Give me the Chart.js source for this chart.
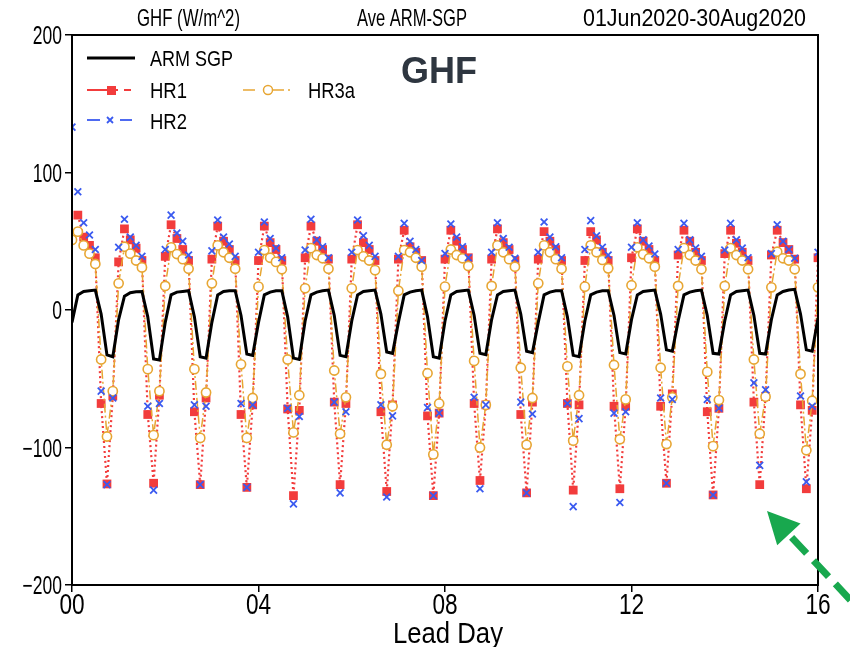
<!DOCTYPE html>
<html>
<head>
<meta charset="utf-8">
<title>GHF Ave ARM-SGP</title>
<script src="https://cdn.jsdelivr.net/npm/chart.js@4.4.1/dist/chart.umd.min.js"></script>
<style>
  html, body { margin: 0; padding: 0; background: #fff; }
  #wrap { position: relative; width: 850px; height: 647px; }
</style>
</head>
<body>
<div id="wrap"><canvas id="chartGhf"></canvas></div>
<script>
// 3-hourly values, 8 per lead day (00,03,...,21 UTC), plus day 16 00
var stepHours = 3;
var dayTicks = [0, 4, 8, 12, 16];
var ghfTicks = [-200, -100, 0, 100, 200];

var armSgp = [
  -9, 11, 13.5, 14, 14.5, -3, -32.7, -34,
  -7, 10, 12.6, 13.3, 13.5, -5, -35.6, -36.4,
  -9, 11, 13, 13.5, 14, -5, -34, -35,
  -9, 11, 13.5, 14, 14, -4, -32, -33,
  -9, 11, 13, 14, 14, -5, -35, -36,
  -8, 11, 13, 14, 14.5, -4, -33, -34,
  -8, 11, 13.5, 14, 14.5, -3, -30.5, -31.5,
  -9, 11, 13, 14, 14.5, -5, -34, -35,
  -8, 11, 13.5, 14, 14.5, -4, -31.5, -32.5,
  -7, 11, 13.5, 14, 14.5, -3, -30, -31,
  -9, 11, 13, 14, 14, -5, -33, -34,
  -8, 11, 13, 14, 14, -4, -31, -32,
  -7, 11, 13.5, 14, 14.5, -3, -29, -30,
  -8, 11, 13, 14, 14.5, -4, -31.5, -32,
  -8, 11, 13.5, 14, 14.5, -4, -31.5, -32,
  -7, 11, 13.5, 14.5, 15, -3, -29, -30,
  -6
];

var hr1 = [
  null, 69, 53, 47, 38, -68, -126.5, -62.5,
  35, 59, 51, 45, 36, -76, -126, -62,
  39, 62, 52, 44, 36, -74, -127, -64,
  37, 61, 50, 44, 36, -76, -129, -69,
  36, 61, 49, 44, 36, -72, -135, -73,
  38, 61, 50, 44, 37, -67, -127, -68,
  37, 62, 49, 44, 36, -74, -132, -69,
  37, 58, 46, 42, 36, -77, -135, -75,
  37, 58, 50, 44, 38, -68, -124, -69,
  37, 59, 49, 44, 36, -76, -133, -67,
  37, 57, 50, 44, 36, -68, -131, -69,
  36, 57, 51, 42, 36, -70, -130, -70,
  38, 59, 50, 44, 36, -70, -126, -61,
  40, 58, 50, 42, 36, -74, -134.5, -71.5,
  41, 58, 48.5, 42, 36, -67, -127, -63,
  40, 58, 49, 44, 37, -69, -130, -73,
  38
];

var hr2 = [
  133, 86, 63.5, 54.5, 44, -59, -127, -64,
  45.6, 66, 53, 47, 39, -70, -131, -68,
  44, 69, 56, 50, 40, -69, -127, -70,
  43, 65.5, 53, 48, 39, -68, -129, -69,
  42, 64, 52, 45, 38, -71.5, -141, -77.5,
  43.6, 66, 51, 46, 38, -67, -133, -74,
  42, 65.5, 54, 47, 39, -69, -136, -77,
  39, 63, 50, 44, 36, -71, -135, -75,
  41, 62.5, 53, 46, 38, -63.5, -130, -69,
  42, 63.5, 52, 45.6, 37.6, -67, -133, -75.6,
  42, 64, 53, 46, 38, -68, -143, -79,
  44, 65, 54, 45.6, 40, -75, -140, -74,
  45.6, 63.5, 51, 46.5, 40.7, -64, -126, -65,
  44, 63, 51, 45, 39, -65, -134.5, -71.5,
  43.6, 63, 51, 45, 38, -53, -113, -58,
  41, 62, 50, 44, 37.6, -62.5, -125, -70,
  42
];

var hr3a = [
  51, 57, 47, 41, 33.5, -36, -92, -59,
  19.4, 46, 41, 36, 31, -43, -91, -59,
  17.5, 45.6, 40.7, 37, 30, -43, -93, -60,
  19.4, 47, 42, 38, 30, -39.5, -93, -64,
  17, 43.6, 38, 35, 29.6, -36, -89, -62,
  15.8, 45, 40, 37.6, 30, -44, -90, -63.5,
  15.8, 43.6, 39, 36, 29, -46.5, -98, -70,
  14, 43.6, 42, 38, 31.5, -46, -105, -68,
  17, 44, 40, 37.6, 32, -37, -100, -69,
  17.5, 47, 42, 37, 31.5, -42, -98, -64,
  19.4, 47, 42, 37, 30, -41, -95, -62,
  17, 47, 42, 36.4, 30.3, -40, -94, -65,
  18, 45.6, 40.5, 37.6, 31.5, -42, -97.5, -63.5,
  17.5, 45, 40, 36, 29.6, -45, -99, -65.5,
  17.5, 45, 40, 36, 29.6, -36, -90, -63,
  16.5, 42.4, 37.6, 36, 29.6, -46.5, -102, -66,
  16.5
];

var FONT = "'Liberation Sans', Arial, sans-serif";
var RED = '#f23c3c', BLUE = '#3a5af0', ORANGE = '#e7a633', GREEN = '#18a84e';

function pts(values) {
  return values.map(function (v, i) {
    return { x: i * stepHours / 24, y: v };
  });
}

function minusLabel(v) {
  return v < 0 ? '\u2212' + Math.abs(v) : String(v);
}

// draw text squeezed horizontally (narrow plotting font look)
function narrowText(ctx, str, x, y, align, size, sx) {
  ctx.save();
  ctx.font = size + 'px ' + FONT;
  ctx.translate(x, y);
  ctx.scale(sx, 1);
  ctx.textAlign = align;
  ctx.textBaseline = 'alphabetic';
  ctx.fillText(str, 0, 0);
  ctx.restore();
}

// same, but squeezed to a given width
function fitText(ctx, str, x, y, align, size, width) {
  ctx.font = size + 'px ' + FONT;
  var w = ctx.measureText(str).width;
  narrowText(ctx, str, x, y, align, size, width / w);
}

var decorPlugin = {
  id: 'decor',
  afterDraw: function (chart) {
    var ctx = chart.ctx, a = chart.chartArea;
    var xs = chart.scales.x, ys = chart.scales.y;
    ctx.save();

    // frame
    ctx.strokeStyle = '#000';
    ctx.lineWidth = 2;
    ctx.strokeRect(a.left, a.top, a.right - a.left, a.bottom - a.top);

    ctx.fillStyle = '#000';
    // tick labels
    ghfTicks.forEach(function (v) {
      narrowText(ctx, minusLabel(v), 62, ys.getPixelForValue(v) + 9, 'right', 25, 0.7);
    });
    dayTicks.forEach(function (v) {
      narrowText(ctx, (v < 10 ? '0' : '') + v, xs.getPixelForValue(v), 614, 'center', 29, 0.78);
    });
    fitText(ctx, 'Lead Day', 393, 643, 'left', 30, 110);

    // header line
    fitText(ctx, 'GHF (W/m^2)', 137, 26, 'left', 24, 103);
    fitText(ctx, 'Ave ARM-SGP', 357, 26, 'left', 24, 110);
    fitText(ctx, '01Jun2020-30Aug2020', 806, 26, 'right', 24, 223);

    // big label
    ctx.fillStyle = '#2e3640';
    ctx.font = 'bold 36px ' + FONT;
    ctx.textAlign = 'center';
    ctx.textBaseline = 'alphabetic';
    ctx.fillText('GHF', 439, 83);

    // legend
    ctx.fillStyle = '#000';
    ctx.strokeStyle = '#000';
    ctx.lineWidth = 3;
    ctx.beginPath(); ctx.moveTo(87, 58); ctx.lineTo(135, 58); ctx.stroke();
    fitText(ctx, 'ARM SGP', 150, 66, 'left', 22, 83);

    ctx.strokeStyle = RED;
    ctx.lineWidth = 2;
    ctx.beginPath(); ctx.moveTo(87, 90); ctx.lineTo(118, 90); ctx.stroke();
    ctx.beginPath(); ctx.moveTo(124, 90); ctx.lineTo(131, 90); ctx.stroke();
    ctx.fillStyle = RED;
    ctx.fillRect(107, 86, 9, 9);
    ctx.fillStyle = '#000';
    fitText(ctx, 'HR1', 150, 98, 'left', 22, 37);

    ctx.strokeStyle = ORANGE;
    ctx.lineWidth = 1.5;
    ctx.beginPath(); ctx.moveTo(243, 90); ctx.lineTo(255, 90); ctx.stroke();
    ctx.beginPath(); ctx.moveTo(272, 90); ctx.lineTo(284, 90); ctx.stroke();
    ctx.beginPath(); ctx.moveTo(288, 90); ctx.lineTo(290, 90); ctx.stroke();
    ctx.fillStyle = '#fff';
    ctx.beginPath(); ctx.arc(268, 90, 4.5, 0, Math.PI * 2); ctx.fill(); ctx.stroke();
    ctx.fillStyle = '#000';
    fitText(ctx, 'HR3a', 308, 98, 'left', 22, 47);

    ctx.strokeStyle = BLUE;
    ctx.lineWidth = 1.8;
    ctx.beginPath(); ctx.moveTo(87, 120); ctx.lineTo(100, 120); ctx.stroke();
    ctx.beginPath(); ctx.moveTo(120, 120); ctx.lineTo(132, 120); ctx.stroke();
    ctx.beginPath();
    ctx.moveTo(107, 117); ctx.lineTo(113, 123);
    ctx.moveTo(113, 117); ctx.lineTo(107, 123);
    ctx.stroke();
    ctx.fillStyle = '#000';
    fitText(ctx, 'HR2', 150, 129, 'left', 22, 37);

    // green dashed arrow (annotation)
    var tipX = 767, tipY = 511, tailX = 856, tailY = 606;
    var dx = tailX - tipX, dy = tailY - tipY;
    var len = Math.sqrt(dx * dx + dy * dy);
    var ux = dx / len, uy = dy / len;
    var headLen = 32, headHalf = 16;
    var bx = tipX + ux * headLen, by = tipY + uy * headLen;
    ctx.strokeStyle = GREEN;
    ctx.lineWidth = 7;
    ctx.setLineDash([22, 10]);
    ctx.beginPath(); ctx.moveTo(bx + ux * 4, by + uy * 4); ctx.lineTo(tailX, tailY); ctx.stroke();
    ctx.setLineDash([]);
    ctx.fillStyle = GREEN;
    ctx.beginPath();
    ctx.moveTo(tipX, tipY);
    ctx.lineTo(bx - uy * headHalf, by + ux * headHalf);
    ctx.lineTo(bx + uy * headHalf, by - ux * headHalf);
    ctx.closePath();
    ctx.fill();

    ctx.restore();
  }
};

var ctxEl = document.getElementById('chartGhf');
new Chart(ctxEl, {
  type: 'line',
  data: {
    datasets: [
      {
        label: 'ARM SGP',
        data: pts(armSgp),
        borderColor: '#000',
        borderWidth: 3,
        pointRadius: 0,
        tension: 0,
        order: 0
      },
      {
        label: 'HR2',
        data: pts(hr2),
        showLine: false,
        borderColor: BLUE,
        pointStyle: 'crossRot',
        pointRadius: 4.8,
        pointBorderWidth: 1.8,
        pointBorderColor: BLUE,
        order: 1
      },
      {
        label: 'HR3a',
        data: pts(hr3a),
        borderColor: ORANGE,
        borderWidth: 1.5,
        borderDash: [9, 3, 2, 3],
        pointStyle: 'circle',
        pointRadius: 4.6,
        pointBorderWidth: 1.6,
        pointBorderColor: ORANGE,
        pointBackgroundColor: '#fff',
        tension: 0,
        order: 2
      },
      {
        label: 'HR1',
        data: pts(hr1),
        borderColor: RED,
        borderWidth: 2.2,
        borderDash: [2, 3],
        pointStyle: 'rect',
        pointRadius: 6.2,
        pointBorderWidth: 0,
        pointBackgroundColor: RED,
        tension: 0,
        order: 3
      }
    ]
  },
  options: {
    responsive: true,
    maintainAspectRatio: false,
    animation: false,
    layout: { padding: { top: 35, right: 32, left: 0, bottom: 0 } },
    plugins: {
      legend: { display: false },
      title: { display: false },
      tooltip: { enabled: false }
    },
    scales: {
      x: {
        type: 'linear',
        min: 0,
        max: 16,
        afterBuildTicks: function (scale) {
          scale.ticks = dayTicks.map(function (v) { return { value: v }; });
        },
        afterFit: function (scale) { scale.height = 62; },
        ticks: { display: false },
        grid: { drawOnChartArea: false, drawTicks: true, tickLength: 7, color: '#000', lineWidth: 1.5 },
        border: { display: true, color: '#000', width: 2 }
      },
      y: {
        min: -200,
        max: 200,
        afterBuildTicks: function (scale) {
          scale.ticks = ghfTicks.map(function (v) { return { value: v }; });
        },
        afterFit: function (scale) { scale.width = 72; },
        ticks: { display: false },
        grid: { drawOnChartArea: false, drawTicks: true, tickLength: 7, color: '#000', lineWidth: 1.5 },
        border: { display: true, color: '#000', width: 2 }
      }
    }
  },
  plugins: [decorPlugin]
});
</script>
</body>
</html>
